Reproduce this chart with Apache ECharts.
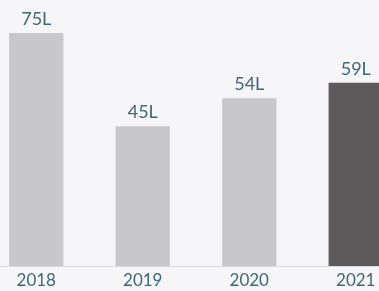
<!DOCTYPE html>
<html><head><meta charset="utf-8">
<script src="https://cdn.jsdelivr.net/npm/echarts@6/dist/echarts.min.js"></script>
<style>html,body{margin:0;padding:0;background:#f6f5f7;overflow:hidden;width:379px;height:291px;}#c{position:absolute;left:-17px;top:0;width:426px;height:291px;}</style>
</head><body><div id="c"></div>
<script>
const categories = ['2018', '2019', '2020', '2021'];
const values = [75, 45, 54, 59];
const barLabels = ['75L', '45L', '54L', '59L'];
const barColors = ['#c8c8cc', '#c8c8cc', '#c8c8cc', '#5b5959'];

const chart = echarts.init(document.getElementById('c'));
chart.setOption({
  backgroundColor: '#f6f5f7',
  animation: false,
  grid: { left: 0, right: 0, top: 33, bottom: 25, containLabel: false },
  xAxis: {
    type: 'category', data: categories,
    axisLine: { show: true, lineStyle: { color: '#d9dde2', width: 1 } },
    axisTick: { show: false },
    axisLabel: { color: '#3d6878', fontSize: 17, fontFamily: 'Lato', margin: 6 }
  },
  yAxis: { type: 'value', min: 0, max: 75, show: false, splitLine: { show: false } },
  series: [{
    type: 'bar', barWidth: '51%',
    data: values.map((v, i) => ({ value: v, itemStyle: { color: barColors[i] } })),
    label: {
      show: true, position: 'top', distance: 5,
      color: '#3d6878', fontSize: 18, fontFamily: 'Lato',
      formatter: p => barLabels[p.dataIndex]
    }
  }]
});
</script></body></html>
